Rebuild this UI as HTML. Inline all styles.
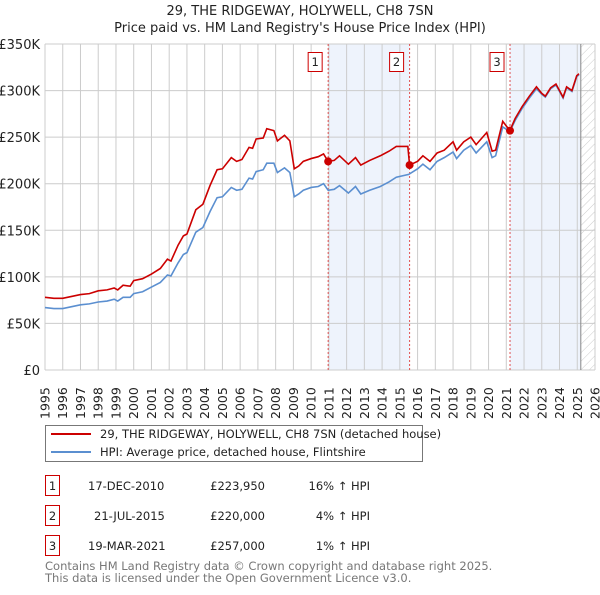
<!DOCTYPE html>
<html><head><meta charset="utf-8"><style>
body{margin:0;background:#fff;font-family:"Liberation Sans","DejaVu Sans",sans-serif;}
svg text{font-family:"DejaVu Sans","Liberation Sans",sans-serif;}
</style></head><body>
<svg id="c" width="600" height="590" xmlns="http://www.w3.org/2000/svg">
<defs><pattern id="hatch" width="6" height="6" patternUnits="userSpaceOnUse" patternTransform="rotate(45)"><line x1="0" y1="0" x2="0" y2="6" stroke="#ccc" stroke-width="1"/></pattern></defs>
<text x="300" y="15" text-anchor="middle" font-size="13" fill="#222">29, THE RIDGEWAY, HOLYWELL, CH8 7SN</text>
<text x="300" y="32" text-anchor="middle" font-size="13" fill="#222">Price paid vs. HM Land Registry's House Price Index (HPI)</text>
<g id="plot"></g>
<g>
<rect x="45.5" y="425.5" width="377" height="36" fill="#fff" stroke="#777"/>
<line x1="51" y1="434" x2="91" y2="434" stroke="#cc0000" stroke-width="2"/>
<text x="100" y="438" font-size="11.5" fill="#222">29, THE RIDGEWAY, HOLYWELL, CH8 7SN (detached house)</text>
<line x1="51" y1="452" x2="91" y2="452" stroke="#5b8fd0" stroke-width="2"/>
<text x="100" y="456" font-size="11.5" fill="#222">HPI: Average price, detached house, Flintshire</text>
</g>
<g font-size="11.5" fill="#222">
<rect x="45.5" y="475.5" width="14" height="20" fill="#fff" stroke="#cc0000"/><text x="52.5" y="490" text-anchor="middle">1</text>
<text x="88" y="490">17-DEC-2010</text><text x="265" y="490" text-anchor="end">£223,950</text><text x="370" y="490" text-anchor="end">16% ↑ HPI</text>
<rect x="45.5" y="505.5" width="14" height="20" fill="#fff" stroke="#cc0000"/><text x="52.5" y="520" text-anchor="middle">2</text>
<text x="94" y="520">21-JUL-2015</text><text x="265" y="520" text-anchor="end">£220,000</text><text x="370" y="520" text-anchor="end">4% ↑ HPI</text>
<rect x="45.5" y="535.5" width="14" height="20" fill="#fff" stroke="#cc0000"/><text x="52.5" y="550" text-anchor="middle">3</text>
<text x="88" y="550">19-MAR-2021</text><text x="265" y="550" text-anchor="end">£257,000</text><text x="370" y="550" text-anchor="end">1% ↑ HPI</text>
</g>
<text x="45" y="570" font-size="11.5" fill="#777">Contains HM Land Registry data © Crown copyright and database right 2025.</text>
<text x="45" y="582" font-size="11.5" fill="#777">This data is licensed under the Open Government Licence v3.0.</text>
</svg>
<script>
const yTicks=[0,50000,100000,150000,200000,250000,300000,350000];
const yTickLabels=["£0","£50K","£100K","£150K","£200K","£250K","£300K","£350K"];
const xYears=[1995,1996,1997,1998,1999,2000,2001,2002,2003,2004,2005,2006,2007,2008,2009,2010,2011,2012,2013,2014,2015,2016,2017,2018,2019,2020,2021,2022,2023,2024,2025,2026];
const hpiDates=[1995.0,1995.5,1996.0,1996.5,1997.0,1997.5,1998.0,1998.5,1998.9,1999.1,1999.4,1999.8,2000.0,2000.5,2001.0,2001.5,2001.9,2002.1,2002.5,2002.8,2003.0,2003.5,2003.9,2004.3,2004.7,2005.0,2005.5,2005.8,2006.1,2006.5,2006.7,2006.9,2007.3,2007.5,2007.9,2008.1,2008.5,2008.8,2009.05,2009.3,2009.56,2010.0,2010.4,2010.7,2010.96,2011.3,2011.6,2012.1,2012.5,2012.8,2013.3,2013.9,2014.4,2014.8,2015.5,2016.0,2016.3,2016.7,2017.1,2017.5,2018.0,2018.2,2018.6,2019.0,2019.3,2019.9,2020.2,2020.4,2020.8,2021.2,2021.5,2021.9,2022.3,2022.7,2023.0,2023.2,2023.5,2023.8,2024.2,2024.4,2024.7,2024.97,2025.1];
const hpiValues=[67,66,66,68,70,71,73,74,76,74,78,78,82,84,89,94,102,101,115,124,126,148,153,170,185,186,196,193,194,206,205,213,215,222,222,212,217,212,186,189,193,196,197,200,193,194,198,190,197,189,193,197,202,207,210,216,221,215,224,228,234,227,236,241,233,245,228,230,261,256,268,281,292,302,296,293,302,306,292,303,299,315,317];
const priceDates=[1995.0,1995.5,1996.0,1996.5,1997.0,1997.5,1998.0,1998.5,1998.9,1999.1,1999.4,1999.8,2000.0,2000.5,2001.0,2001.5,2001.9,2002.1,2002.5,2002.8,2003.0,2003.5,2003.9,2004.3,2004.7,2005.0,2005.5,2005.8,2006.1,2006.5,2006.7,2006.9,2007.3,2007.5,2007.9,2008.1,2008.5,2008.8,2009.05,2009.3,2009.56,2010.0,2010.4,2010.7,2010.96,2011.3,2011.6,2012.1,2012.5,2012.8,2013.3,2013.9,2014.4,2014.8,2015.45,2015.55,2016.0,2016.3,2016.7,2017.1,2017.5,2018.0,2018.2,2018.6,2019.0,2019.3,2019.9,2020.2,2020.4,2020.8,2021.2,2021.5,2021.9,2022.3,2022.7,2023.0,2023.2,2023.5,2023.8,2024.2,2024.4,2024.7,2024.97,2025.1];
const priceValues=[78,77,77,79,81,82,85,86,88,86,91,90,96,98,103,109,119,117,134,144,146,172,178,198,215,216,228,224,226,239,238,248,249,259,257,246,252,246,216,219,224,227,229,232,224,225,230,221,228,220,225,230,235,240,240,220,224,230,224,233,236,245,236,245,250,242,255,235,236,267,257,270,283,294,304,297,294,303,307,293,304,300,316,318];
const saleLabels=["1","2","3"];
const saleDates=[2010.96,2015.55,2021.21];
const salePrices=[223950,220000,257000];
const dataEnd=2025.2;

const X0=45,X1=595,Y0=370,Y1=44;
const xs=y=>X0+(y-1995)/(2026-1995)*(X1-X0);
const ys=v=>Y0-v/350000*(Y0-Y1);
const NS="http://www.w3.org/2000/svg";
const g=document.getElementById('plot');
function mk(t,a){const e=document.createElementNS(NS,t);for(const k in a)e.setAttribute(k,a[k]);g.appendChild(e);return e;}
// shading
let s1=mk('rect',{x:xs(saleDates[0]),y:Y1,width:xs(saleDates[1])-xs(saleDates[0]),height:Y0-Y1,fill:'#eef3fc'});


let s2=mk('rect',{x:xs(saleDates[2]),y:Y1,width:xs(dataEnd)-xs(saleDates[2]),height:Y0-Y1,fill:'#eef3fc'});


let h=mk('rect',{x:xs(dataEnd),y:Y1,width:X1-xs(dataEnd),height:Y0-Y1,fill:'url(#hatch)'});


// grid
yTicks.forEach((v,i)=>{
 let l=mk('line',{x1:X0,x2:X1,y1:ys(v),y2:ys(v),stroke:'#ccc','stroke-width':1});
 
 
 let t=mk('text',{x:40,y:ys(v)+5,'text-anchor':'end','font-size':13,fill:'#222'});
 t.textContent=yTickLabels[i];
 
 
});
xYears.forEach(yr=>{
 let l=mk('line',{x1:xs(yr),x2:xs(yr),y1:Y1,y2:Y0,stroke:'#ccc','stroke-width':1});
 
 
 let t=mk('text',{x:0,y:0,'font-size':12.5,fill:'#222',transform:`translate(${xs(yr)+4.5},419) rotate(-90)`});
 t.textContent=yr;
 
 
});
let dl=mk('line',{x1:xs(dataEnd),x2:xs(dataEnd),y1:Y1,y2:Y0,stroke:'#888','stroke-width':1});


// sale vlines
saleDates.forEach((d,i)=>{
 let l=mk('line',{x1:xs(d),x2:xs(d),y1:Y1,y2:Y0,stroke:'#e05050','stroke-width':1,'stroke-dasharray':'2,2'});
 
 
});
// lines
let hp=mk('polyline',{points:hpiDates.map((d,i)=>xs(d)+','+ys(hpiValues[i]*1000)).join(' '),fill:'none',stroke:'#5b8fd0','stroke-width':1.6});


let pp=mk('polyline',{points:priceDates.map((d,i)=>xs(d)+','+ys(priceValues[i]*1000)).join(' '),fill:'none',stroke:'#cc0000','stroke-width':1.6});


// sale points & boxes
saleDates.forEach((d,i)=>{
 let c=mk('circle',{cx:xs(d),cy:ys(salePrices[i]),r:4,fill:'#cc0000'});
 
 
 let r=mk('rect',{x:xs(d)-20,y:52.5,width:14,height:19,fill:'#fff',stroke:'#cc0000'});
 
 
 let t=mk('text',{x:xs(d)-13,y:66,'text-anchor':'middle','font-size':11.5,fill:'#222'});
 t.textContent=saleLabels[i];
 
 
});
</script>
</body></html>
